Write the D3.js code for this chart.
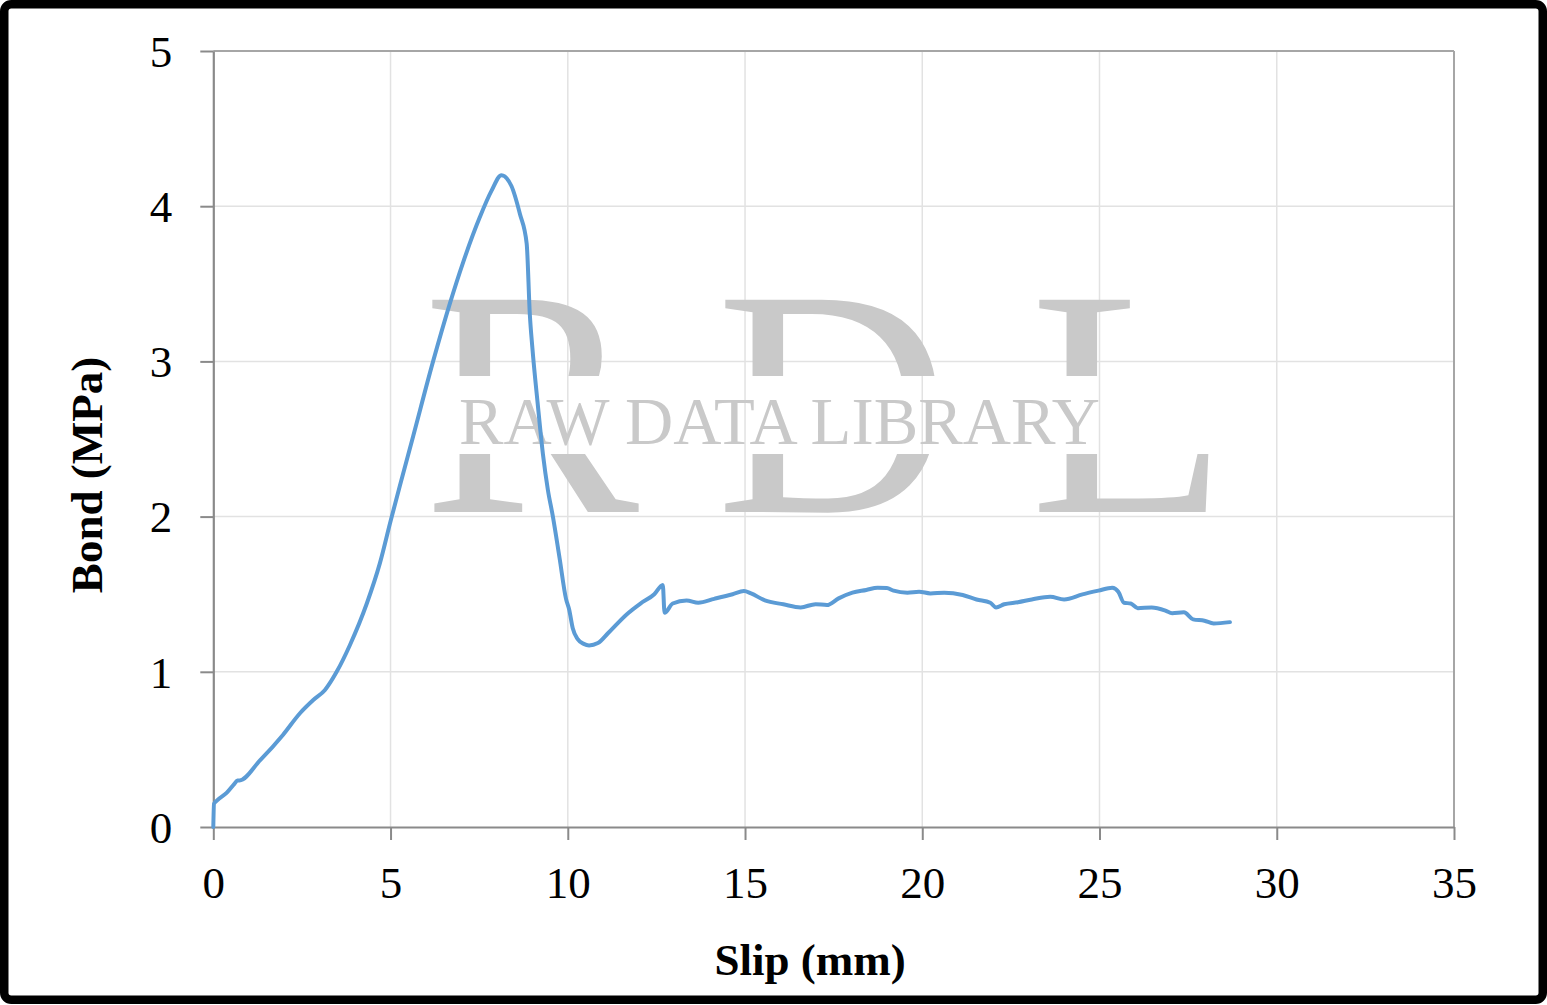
<!DOCTYPE html>
<html><head><meta charset="utf-8">
<script src="https://cdn.jsdelivr.net/npm/d3@7"></script>
<style>html,body{margin:0;padding:0;background:#fff;}svg{display:block;}</style>
</head><body>
<svg id="c" width="1547" height="1005"></svg>
<script>
const xTicks = [0, 5, 10, 15, 20, 25, 30, 35];
const yTicks = [0, 1, 2, 3, 4, 5];
const xTitle = "Slip (mm)";
const yTitle = "Bond (MPa)";
const slip = [0, 0.02, 0.1, 0.375, 0.6, 0.68, 0.74, 1.31, 1.97, 2.445, 2.82, 3.15, 3.48, 3.855, 4.33, 4.7, 5.0, 5.265, 5.64, 6.2, 6.675, 7.05, 7.52, 7.85, 8.13, 8.41, 8.65, 8.84, 8.93, 9.0, 9.15, 9.3, 9.44, 9.58, 9.77, 9.95, 10.04, 10.14, 10.28, 10.45, 10.6, 10.85, 11.14, 11.66, 12.05, 12.44, 12.68, 12.73, 12.96, 13.35, 13.68, 14.13, 14.65, 14.97, 15.17, 15.56, 16.08, 16.57, 16.99, 17.31, 17.64, 18.03, 18.42, 18.74, 19.0, 19.19, 19.58, 19.91, 20.23, 20.62, 21.14, 21.53, 21.92, 22.08, 22.31, 22.7, 23.09, 23.61, 24.0, 24.52, 24.97, 25.36, 25.53, 25.69, 25.88, 26.08, 26.47, 26.86, 27.05, 27.38, 27.64, 27.96, 28.22, 28.68];
const bond = [0, 0.15, 0.17, 0.22, 0.28, 0.30, 0.30, 0.427, 0.595, 0.733, 0.818, 0.883, 1.0, 1.173, 1.44, 1.70, 1.97, 2.2, 2.52, 3.0, 3.374, 3.64, 3.93, 4.10, 4.20, 4.13, 3.95, 3.76, 3.30, 3.09, 2.73, 2.40, 2.17, 2.0, 1.73, 1.47, 1.40, 1.28, 1.21, 1.18, 1.17, 1.185, 1.25, 1.37, 1.44, 1.50, 1.56, 1.38, 1.44, 1.46, 1.445, 1.47, 1.50, 1.52, 1.505, 1.46, 1.435, 1.415, 1.436, 1.43, 1.473, 1.51, 1.527, 1.542, 1.54, 1.523, 1.51, 1.516, 1.505, 1.51, 1.495, 1.466, 1.445, 1.415, 1.435, 1.448, 1.466, 1.484, 1.466, 1.499, 1.523, 1.542, 1.516, 1.445, 1.44, 1.41, 1.414, 1.394, 1.377, 1.383, 1.338, 1.329, 1.312, 1.32];

const svg = d3.select("#c");
const x = d3.scaleLinear().domain([0, 35]).range([213.3, 1454]);
const y = d3.scaleLinear().domain([0, 5]).range([827, 51]);
const serif = "'Liberation Serif','Times New Roman',Times,serif";

// gridlines
svg.append("g").selectAll("line").data(xTicks.slice(1)).join("line")
  .attr("x1", d => x(d)).attr("x2", d => x(d)).attr("y1", y(0)).attr("y2", y(5))
  .attr("stroke", "#e2e2e2").attr("stroke-width", 1.5);
svg.append("g").selectAll("line").data(yTicks.slice(1)).join("line")
  .attr("x1", x(0)).attr("x2", x(35)).attr("y1", d => y(d)).attr("y2", d => y(d))
  .attr("stroke", "#e2e2e2").attr("stroke-width", 1.5);

// watermark
const defs = svg.append("defs");
const cp = defs.append("clipPath").attr("id", "wmclip");
cp.append("rect").attr("x", 0).attr("y", 0).attr("width", 1547).attr("height", 376);
cp.append("rect").attr("x", 0).attr("y", 454).attr("width", 1547).attr("height", 551);
const wm = svg.append("g").attr("clip-path", "url(#wmclip)");
[["R", 423], ["D", 716], ["L", 1030]].forEach(([t, px]) => {
  wm.append("text").attr("x", px).attr("y", 512).text(t)
    .attr("font-family", serif).attr("font-size", 324).attr("fill", "#c9c9c9");
});
svg.append("text").attr("x", 459).attr("y", 444).text("RAW DATA LIBRARY")
  .attr("font-family", serif).attr("font-size", 68).attr("fill", "#c9c9c9")
  .attr("textLength", 641).attr("lengthAdjust", "spacingAndGlyphs");

// frame top/right
svg.append("line").attr("x1", x(0)).attr("x2", x(35)).attr("y1", y(5)).attr("y2", y(5))
  .attr("stroke", "#a6a6a6").attr("stroke-width", 2);
svg.append("line").attr("x1", x(35)).attr("x2", x(35)).attr("y1", y(5)).attr("y2", y(0))
  .attr("stroke", "#a6a6a6").attr("stroke-width", 2);

// axes
const xAxis = svg.append("g").attr("transform", `translate(0,${y(0)})`)
  .call(d3.axisBottom(x).tickValues(xTicks).tickSize(13).tickSizeOuter(0).tickPadding(26).tickFormat(d3.format("d")));
const yAxis = svg.append("g").attr("transform", `translate(${x(0)},0)`)
  .call(d3.axisLeft(y).tickValues(yTicks).tickSize(13).tickSizeOuter(0).tickPadding(28).tickFormat(d3.format("d")));
[xAxis, yAxis].forEach(g => {
  g.select(".domain").attr("stroke", "#8a8a8a").attr("stroke-width", 2.2);
  g.selectAll(".tick line").attr("stroke", "#8a8a8a").attr("stroke-width", 2);
  g.selectAll(".tick text").attr("font-family", serif).attr("font-size", 45).attr("fill", "#000");
});
yAxis.selectAll(".tick text").attr("dy", "0.34em");

// curve
const pts = slip.map((s, i) => [s, bond[i]]);
svg.append("path").datum(pts)
  .attr("d", d3.line().x(d => x(d[0])).y(d => y(d[1])).curve(d3.curveMonotoneX))
  .attr("fill", "none").attr("stroke", "#5b9bd5").attr("stroke-width", 4)
  .attr("stroke-linejoin", "round").attr("stroke-linecap", "round");

// titles
svg.append("text").attr("x", 810).attr("y", 975).attr("text-anchor", "middle")
  .attr("font-family", serif).attr("font-weight", "bold").attr("font-size", 45).text(xTitle);
svg.append("text").attr("transform", "translate(102,475) rotate(-90)").attr("text-anchor", "middle")
  .attr("font-family", serif).attr("font-weight", "bold").attr("font-size", 45).text(yTitle);

// outer border
svg.append("rect").attr("x", 4.25).attr("y", 4.25).attr("width", 1538.5).attr("height", 995.5)
  .attr("rx", 7).attr("fill", "none").attr("stroke", "#000").attr("stroke-width", 8.5);
</script>
</body></html>
